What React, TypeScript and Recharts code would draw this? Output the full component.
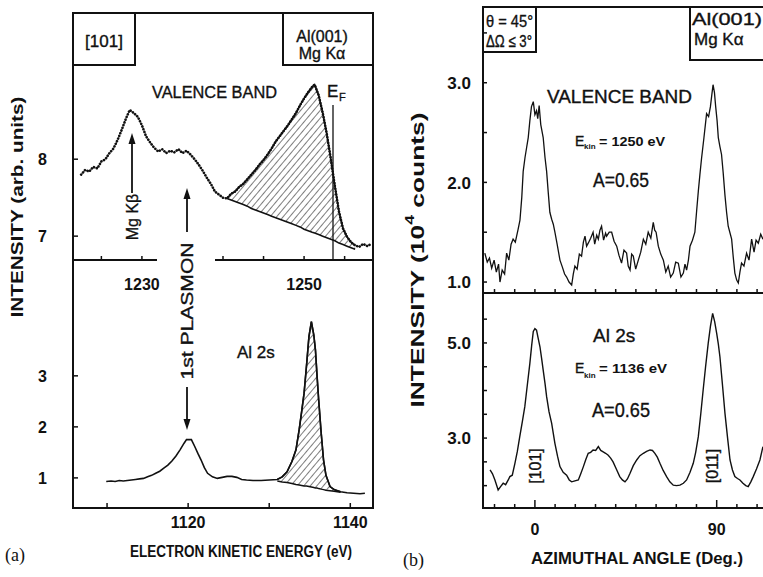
import React from "react";
import { ComposedChart, Line, Area, XAxis, YAxis } from "recharts";

const FONT = "'Liberation Sans', Arial, Helvetica, sans-serif";
const SERIF = "'Liberation Serif', 'Times New Roman', serif";
const INK = "#111";

// ---- (a) upper: valence band, electron kinetic energy (eV) vs intensity
const vbEnergy = [
  1222.5, 1223.0, 1223.5, 1224.0, 1224.5, 1225.0, 1225.5, 1226.0, 1226.5, 1227.0,
  1227.5, 1228.0, 1228.5, 1229.0, 1229.5, 1230.0, 1230.5, 1231.0, 1231.5, 1232.0,
  1232.5, 1233.0, 1233.5, 1234.0, 1234.5, 1235.0, 1235.5, 1236.0, 1236.5, 1237.0,
  1237.5, 1238.0, 1238.5, 1239.0, 1239.5, 1240.0, 1240.5, 1241.0, 1241.5, 1242.0,
  1242.5, 1243.0, 1243.5, 1244.0, 1244.5, 1245.0, 1245.5, 1246.0, 1246.5, 1247.0,
  1247.5, 1248.0, 1248.5, 1249.0, 1249.5, 1250.0, 1250.5, 1251.0, 1251.3, 1251.8,
  1252.3, 1252.8, 1253.3, 1253.8, 1254.3, 1254.8, 1255.3, 1255.8, 1256.3, 1256.8,
  1257.3, 1257.8, 1258.3,
];
const vbIntensity = [
  7.8, 7.86, 7.84, 7.9, 7.88, 7.97, 8.0, 8.08, 8.14, 8.25,
  8.38, 8.52, 8.64, 8.6, 8.55, 8.44, 8.3, 8.22, 8.15, 8.1,
  8.13, 8.08, 8.11, 8.09, 8.13, 8.08, 8.11, 8.06, 8.0, 7.93,
  7.85, 7.76, 7.68, 7.58, 7.54, 7.5, 7.49, 7.55, 7.58, 7.64,
  7.68, 7.74, 7.8, 7.86, 7.93, 7.99, 8.06, 8.14, 8.23, 8.3,
  8.37, 8.44, 8.52, 8.6, 8.7, 8.79, 8.87, 8.94, 8.97, 8.83,
  8.6, 8.33, 8.0, 7.65, 7.32, 7.1, 6.99, 6.92, 6.88, 6.86,
  6.9, 6.87, 6.9,
];
// straight background under the hatched valence band
const vbHatchEnergy = [
  1240.5, 1241.0, 1241.5, 1242.0, 1242.5, 1243.0, 1243.5, 1244.0, 1244.5, 1245.0,
  1245.5, 1246.0, 1246.5, 1247.0, 1247.5, 1248.0, 1248.5, 1249.0, 1249.5, 1250.0,
  1250.5, 1251.0, 1251.3, 1251.8, 1252.3, 1252.8, 1253.3, 1253.8, 1254.3, 1254.8,
  1255.3, 1255.8, 1256.3,
];
const vbHatchBase = [
  7.49, 7.47, 7.45, 7.43, 7.41, 7.39, 7.36, 7.34, 7.32, 7.3,
  7.28, 7.26, 7.24, 7.22, 7.2, 7.18, 7.16, 7.14, 7.12, 7.09,
  7.07, 7.05, 7.04, 7.02, 7.0, 6.98, 6.96, 6.94, 6.91, 6.89,
  6.87, 6.85, 6.83,
];
const vbEnergyTicks = [1225, 1230, 1235, 1240, 1245, 1250, 1255];
const vbEnergyLabels = [1230, 1250];
const vbIntensityTicks = [7, 8];

// ---- (a) lower: Al 2s core level
const al2sEnergy = [
  1109.9, 1110.5, 1111.0, 1111.5, 1112.0, 1112.5, 1113.0, 1113.5, 1114.0, 1114.5,
  1115.0, 1115.5, 1116.0, 1116.5, 1117.0, 1117.5, 1118.0, 1118.5, 1119.0, 1119.5,
  1119.8, 1120.4, 1120.8, 1121.2, 1121.6, 1122.0, 1122.4, 1123.0, 1123.6, 1124.2,
  1124.8, 1125.4, 1126.0, 1126.6, 1127.2, 1128.0, 1129.0, 1130.0, 1131.0, 1131.6,
  1132.2, 1132.8, 1133.3, 1133.7, 1134.0, 1134.3, 1134.6, 1134.9, 1135.2, 1135.5,
  1135.7, 1135.9, 1136.1, 1136.4, 1136.7, 1137.0, 1137.5, 1138.0, 1138.8, 1139.6,
  1140.4, 1141.2, 1141.8,
];
const al2sIntensity = [
  0.93, 0.94, 0.93, 0.95, 0.94, 0.95, 0.96, 0.97, 0.98, 0.99,
  1.02, 1.05, 1.09, 1.13, 1.19, 1.25, 1.33, 1.43, 1.55, 1.68,
  1.75, 1.75, 1.62, 1.48, 1.35, 1.2, 1.09, 1.02, 0.99, 1.01,
  1.03, 1.03, 1.01, 0.97, 0.96, 0.95, 0.95, 0.96, 0.97, 1.02,
  1.12, 1.32, 1.55, 1.95, 2.3, 2.66, 3.2, 3.77, 4.06, 3.8,
  3.51, 3.0, 2.53, 1.9, 1.35, 1.05, 0.83, 0.77, 0.73, 0.71,
  0.7, 0.69, 0.7,
];
const al2sHatchEnergy = [
  1131.0, 1131.6, 1132.2, 1132.8, 1133.3, 1133.7, 1134.0, 1134.3, 1134.6, 1134.9,
  1135.2, 1135.5, 1135.7, 1135.9, 1136.1, 1136.4, 1136.7, 1137.0, 1137.5, 1138.0,
  1138.8,
];
const al2sHatchBase = [
  0.94, 0.92, 0.91, 0.89, 0.87, 0.86, 0.85, 0.84, 0.84, 0.83,
  0.82, 0.81, 0.8, 0.8, 0.79, 0.78, 0.77, 0.76, 0.75, 0.74,
  0.72,
];
const al2sEnergyTicks = [1110, 1120, 1130, 1140];
const al2sEnergyLabels = [1120, 1140];
const al2sIntensityTicks = [1, 2, 3];

// ---- (b) upper: valence band azimuthal scan (10^4 counts)
const vbAngle = [
  -24.8, -23.6, -22.5, -21.4, -20.2, -19.1, -18.0, -17.3, -16.2, -15.0,
  -14.0, -12.9, -11.8, -10.8, -9.7, -8.3, -7.4, -6.5, -5.8, -4.9,
  -4.1, -3.3, -2.5, -1.7, -0.8, 0.0, 0.8, 1.4, 2.1, 2.9,
  4.1, 5.0, 5.8, 6.6, 7.4, 8.3, 9.1, 9.9, 11.0, 12.4,
  13.6, 14.7, 15.7, 16.9, 18.2, 19.0, 19.8, 20.9, 22.0, 23.1,
  24.0, 24.8, 25.6, 26.4, 27.6, 28.8, 29.6, 30.6, 31.4, 32.2,
  33.0, 34.0, 35.0, 35.5, 36.8, 38.0, 39.2, 40.5, 41.6, 42.9,
  44.1, 45.4, 46.2, 47.1, 47.9, 48.7, 49.9, 51.2, 52.4, 53.7,
  54.9, 56.1, 57.4, 58.6, 59.3, 60.0, 61.1, 62.3, 63.6, 64.8,
  66.0, 67.2, 68.5, 69.7, 71.0, 72.3, 73.5, 74.3, 75.1, 76.0,
  76.8, 78.0, 79.2, 80.1, 80.9, 81.7, 82.5, 83.7, 85.0, 86.0,
  86.9, 87.6, 88.2, 88.9, 89.5, 90.2, 90.8, 91.6, 92.4, 93.2,
  94.1, 94.9, 95.7, 96.5, 97.4, 98.2, 99.0, 99.9, 100.7, 101.5,
  102.3, 103.5, 104.8, 106.0, 107.3, 108.5, 109.5, 110.6, 111.8, 112.9,
];
const vbCounts = [
  1.29, 1.2, 1.24, 1.14, 1.22, 1.1, 1.18, 1.0, 1.12, 1.08,
  1.29, 1.22, 1.38, 1.43, 1.4, 1.53, 1.62, 1.85, 2.11, 2.25,
  2.35, 2.45, 2.62, 2.76, 2.81, 2.68, 2.72, 2.64, 2.77, 2.58,
  2.45, 2.25, 2.11, 1.9, 1.7, 1.63, 1.58, 1.5, 1.38, 1.22,
  1.15, 1.08, 1.05, 1.0, 0.97, 1.08, 1.16, 1.13, 1.28, 1.26,
  1.4, 1.46, 1.36, 1.39, 1.44, 1.5, 1.38, 1.47, 1.43, 1.52,
  1.56, 1.42, 1.49, 1.46, 1.5, 1.5, 1.41, 1.36, 1.27, 1.19,
  1.32, 1.29, 1.16, 1.12, 1.28, 1.26, 1.13, 1.22, 1.3, 1.43,
  1.38, 1.5, 1.44, 1.6, 1.52, 1.5, 1.36, 1.28, 1.22, 1.1,
  1.16, 1.05, 1.09, 1.2, 1.19, 1.05, 1.09, 1.18, 1.12, 1.22,
  1.36, 1.42, 1.5, 1.72, 1.91, 2.08, 2.24, 2.45, 2.69, 2.66,
  2.76, 2.88, 2.98, 2.9, 2.76, 2.62, 2.45, 2.36, 2.28, 2.1,
  1.87, 1.7, 1.56, 1.5, 1.43, 1.25, 1.09, 1.02, 0.99, 1.1,
  1.19, 1.16, 1.29, 1.22, 1.43, 1.3, 1.42, 1.39, 1.48, 1.43,
];
const vbCountTicks = [1.0, 1.5, 2.0, 2.5, 3.0, 3.5];
const vbCountLabels = [1.0, 2.0, 3.0];

// ---- (b) lower: Al 2s azimuthal scan
const al2sAngle = [
  -22.2, -21.0, -19.8, -18.2, -17.0, -15.7, -14.5, -13.2, -12.4, -11.2,
  -9.9, -8.7, -7.5, -6.2, -5.0, -3.8, -2.5, -1.6, -0.8, 0.0,
  0.8, 1.6, 2.5, 3.3, 4.1, 5.0, 5.8, 7.0, 8.3, 9.1,
  9.9, 11.2, 12.4, 14.0, 15.7, 17.0, 18.2, 19.8, 21.5, 22.7,
  24.0, 25.2, 26.4, 27.6, 28.8, 30.1, 31.4, 32.6, 33.8, 35.0,
  36.3, 37.5, 38.7, 40.3, 42.0, 43.3, 44.6, 45.8, 47.1, 48.7,
  50.4, 52.0, 53.7, 55.3, 57.0, 58.2, 59.4, 60.6, 61.9, 63.5,
  65.2, 66.8, 68.5, 70.1, 71.8, 73.5, 75.1, 76.8, 78.4, 79.6,
  80.9, 82.1, 83.3, 84.5, 85.8, 86.9, 88.0, 89.0, 90.0, 90.8,
  91.6, 92.9, 94.1, 95.4, 96.6, 97.8, 99.0, 100.3, 101.5, 103.0,
  104.4, 105.6, 106.9, 108.1, 109.7, 111.4, 112.9,
];
const al2sCounts = [
  2.33, 2.25, 2.12, 1.91, 1.98, 2.05, 2.02, 2.12, 2.19, 2.22,
  2.47, 2.72, 3.03, 3.35, 3.66, 4.1, 4.57, 4.95, 5.24, 5.3,
  5.27, 5.1, 4.92, 4.68, 4.43, 4.15, 3.87, 3.55, 3.31, 3.1,
  2.89, 2.62, 2.4, 2.28, 2.22, 2.12, 2.08, 2.1, 2.12, 2.25,
  2.4, 2.55, 2.68, 2.7, 2.75, 2.74, 2.82, 2.74, 2.71, 2.68,
  2.64, 2.58, 2.5, 2.35, 2.19, 2.12, 2.08, 2.14, 2.26, 2.42,
  2.54, 2.63, 2.68, 2.72, 2.75, 2.74, 2.68, 2.6, 2.47, 2.32,
  2.19, 2.08, 2.01, 2.0, 2.01, 2.05, 2.12, 2.28, 2.47, 2.7,
  3.03, 3.5, 4.01, 4.5, 4.99, 5.35, 5.62, 5.45, 5.2, 4.98,
  4.71, 4.1, 3.52, 3.0, 2.54, 2.33, 2.19, 2.15, 2.12, 2.05,
  2.0, 1.98, 2.08, 2.19, 2.35, 2.54, 2.82,
];
const al2sCountTicks = [2.0, 2.5, 3.0, 3.5, 4.0, 4.5, 5.0, 5.5];
const al2sCountLabels = [3.0, 5.0];

const angleTicks = [-20, -10, 0, 10, 20, 30, 40, 50, 60, 70, 80, 90, 100, 110];
const angleLabels = [0, 90];

// ---- tables for recharts
const vbRows = vbEnergy.map((x, i) => ({ x, y: vbIntensity[i] }));
const vbHatchRows = vbHatchEnergy.map((x, i) => ({
  x,
  band: [vbHatchBase[i], vbIntensity[vbEnergy.indexOf(x)]],
}));
const al2sRows = al2sEnergy.map((x, i) => ({ x, y: al2sIntensity[i] }));
const al2sHatchRows = al2sHatchEnergy.map((x, i) => ({
  x,
  band: [al2sHatchBase[i], al2sIntensity[al2sEnergy.indexOf(x)]],
}));
const vbAngleRows = vbAngle.map((x, i) => ({ x, y: vbCounts[i] }));
const al2sAngleRows = al2sAngle.map((x, i) => ({ x, y: al2sCounts[i] }));

// ticks point into the frame, labels sit outside
function bottomTick(labels: number[], len: number, dy: number, bigLen = len, big: number[] = []) {
  return (p: any) => {
    const v = p.payload.value as number;
    const l = big.includes(v) ? bigLen : len;
    return (
      <g>
        <line x1={p.x} x2={p.x} y1={p.y} y2={p.y - l} stroke={INK} strokeWidth={1.5} />
        {labels.includes(v) ? (
          <text x={p.x} y={p.y + dy} textAnchor="middle" fontFamily={FONT} fontWeight="bold" fontSize={16} fill={INK}>
            {v}
          </text>
        ) : null}
      </g>
    );
  };
}

function leftTick(labels: number[], len: number, dx: number, digits: number, size = 16) {
  return (p: any) => {
    const v = p.payload.value as number;
    return (
      <g>
        <line x1={p.x} x2={p.x + len} y1={p.y} y2={p.y} stroke={INK} strokeWidth={1.5} />
        {labels.includes(v) ? (
          <text x={p.x - dx} y={p.y} dy="0.36em" textAnchor="end" fontFamily={FONT} fontWeight="bold" fontSize={size} fill={INK}>
            {v.toFixed(digits)}
          </text>
        ) : null}
      </g>
    );
  };
}

type PanelProps = {
  left: number;
  top: number;
  width: number;
  height: number;
  xDomain: [number, number];
  yDomain: [number, number];
  xTicks: number[];
  yTicks: number[];
  xTick: any;
  yTick: any;
  data: any[];
  children: React.ReactNode;
};

function Panel(props: PanelProps) {
  const padL = 60, padT = 4, padR = 4, padB = 40;
  return (
    <div style={{ position: "absolute", left: props.left - padL, top: props.top - padT }}>
      <ComposedChart
        width={props.width + padL + padR}
        height={props.height + padT + padB}
        data={props.data}
        margin={{ top: padT, right: padR, bottom: 0, left: 0 }}
      >
        <XAxis
          type="number"
          dataKey="x"
          domain={props.xDomain}
          ticks={props.xTicks}
          interval={0}
          tickSize={0}
          tickMargin={0}
          tickLine={false}
          height={padB}
          axisLine={{ stroke: INK, strokeWidth: 2 }}
          tick={props.xTick}
          allowDataOverflow
        />
        <YAxis
          type="number"
          domain={props.yDomain}
          ticks={props.yTicks}
          interval={0}
          tickSize={0}
          tickMargin={0}
          tickLine={false}
          width={padL}
          axisLine={{ stroke: INK, strokeWidth: 2 }}
          tick={props.yTick}
          allowDataOverflow
        />
        {props.children}
      </ComposedChart>
    </div>
  );
}

// frame box given the centre lines of its borders
function Box({ x0, y0, x1, y1 }: { x0: number; y0: number; x1: number; y1: number }) {
  return (
    <div
      style={{
        position: "absolute",
        left: x0 - 1,
        top: y0 - 1,
        width: x1 - x0 - 2,
        height: y1 - y0 - 2,
        border: `2px solid ${INK}`,
      }}
    />
  );
}

function Arrow({ x, y0, y1 }: { x: number; y0: number; y1: number }) {
  // y1 is the tip
  const dir = y1 < y0 ? 1 : -1;
  return (
    <g>
      <line x1={x} x2={x} y1={y0} y2={y1 + dir * 8} stroke={INK} strokeWidth={1.8} />
      <polygon points={`${x},${y1} ${x - 3.5},${y1 + dir * 11} ${x + 3.5},${y1 + dir * 11}`} fill={INK} />
    </g>
  );
}

// scanned lettering is a little heavier than plain regular weight
const txt = { fontFamily: FONT, fill: INK, stroke: INK, strokeWidth: 0.35 } as const;
const bold = { fontFamily: FONT, fill: INK, fontWeight: "bold" } as const;

export default function App() {
  return (
    <div style={{ position: "fixed", left: 0, top: 0, width: 763, height: 577, overflow: "hidden", background: "#fff" }}>
      <svg width={0} height={0} style={{ position: "absolute" }}>
        <defs>
          <pattern id="hatch" width={5} height={5} patternUnits="userSpaceOnUse" patternTransform="rotate(40)">
            <line x1={0} y1={0} x2={0} y2={5} stroke={INK} strokeWidth={1.1} />
          </pattern>
        </defs>
      </svg>

      <Box x0={73} y0={13} x1={373} y1={508} />
      <Box x0={73} y0={13} x1={135} y1={65} />
      <Box x0={283} y0={13} x1={373} y1={65} />
      <Box x0={483} y0={7} x1={800} y1={508} />
      <Box x0={483} y0={7} x1={536} y1={52} />
      <Box x0={690} y0={7} x1={800} y1={60} />

      {/* (a) upper */}
      <Panel
        left={73}
        top={13}
        width={300}
        height={247}
        xDomain={[1221.5, 1258.5]}
        yDomain={[6.69, 9.9]}
        xTicks={vbEnergyTicks}
        yTicks={vbIntensityTicks}
        xTick={bottomTick(vbEnergyLabels, 4, 30)}
        yTick={leftTick(vbIntensityTicks, 5, 26, 0)}
        data={vbRows}
      >
        <Area data={vbHatchRows} dataKey="band" type="linear" stroke={INK} strokeWidth={1.6} fill="url(#hatch)" fillOpacity={1} isAnimationActive={false} />
        <Line dataKey="y" type="linear" stroke={INK} strokeWidth={2.6} strokeDasharray="0.1 2.8" strokeLinecap="round" dot={false} isAnimationActive={false} />
      </Panel>

      {/* (a) lower */}
      <Panel
        left={73}
        top={260}
        width={300}
        height={248}
        xDomain={[1105.8, 1142.8]}
        yDomain={[0.41, 5.27]}
        xTicks={al2sEnergyTicks}
        yTicks={al2sIntensityTicks}
        xTick={bottomTick(al2sEnergyLabels, 5, 20)}
        yTick={leftTick(al2sIntensityTicks, 5, 26, 0)}
        data={al2sRows}
      >
        <Area data={al2sHatchRows} dataKey="band" type="linear" stroke={INK} strokeWidth={1.5} fill="url(#hatch)" fillOpacity={1} isAnimationActive={false} />
        <Line dataKey="y" type="linear" stroke={INK} strokeWidth={1.6} dot={false} isAnimationActive={false} />
      </Panel>

      {/* (b) upper */}
      <Panel
        left={483}
        top={7}
        width={286}
        height={286}
        xDomain={[-25.7, 115.9]}
        yDomain={[0.89, 3.76]}
        xTicks={angleTicks}
        yTicks={vbCountTicks}
        xTick={bottomTick([], 4, 0)}
        yTick={leftTick(vbCountLabels, 4, 12, 1, 17)}
        data={vbAngleRows}
      >
        <Line dataKey="y" type="linear" stroke={INK} strokeWidth={1.3} dot={false} isAnimationActive={false} />
      </Panel>

      {/* (b) lower */}
      <Panel
        left={483}
        top={293}
        width={286}
        height={215}
        xDomain={[-25.7, 115.9]}
        yDomain={[1.53, 6.05]}
        xTicks={angleTicks}
        yTicks={al2sCountTicks}
        xTick={bottomTick(angleLabels, 4, 27, 8, angleLabels)}
        yTick={leftTick(al2sCountLabels, 4, 12, 1, 17)}
        data={al2sAngleRows}
      >
        <Line dataKey="y" type="linear" stroke={INK} strokeWidth={1.4} dot={false} isAnimationActive={false} />
      </Panel>

      <svg width={763} height={577} style={{ position: "absolute", left: 0, top: 0, pointerEvents: "none" }}>
        {/* ---- panel (a) annotations ---- */}
        <text x={104} y={47} textAnchor="middle" fontSize={17} {...txt}>[101]</text>
        <text x={322} y={42} textAnchor="middle" fontSize={16} {...txt}>Al(001)</text>
        <text x={322} y={59} textAnchor="middle" fontSize={16} {...txt}>Mg Kα</text>
        <text x={152} y={98} fontSize={17} textLength={125} lengthAdjust="spacingAndGlyphs" {...txt}>VALENCE BAND</text>
        <text x={327} y={97} fontSize={17} {...txt}>E</text>
        <text x={339} y={101} fontSize={11} {...txt}>F</text>
        <line x1={333} x2={333} y1={105} y2={260} stroke={INK} strokeWidth={1.3} />

        <Arrow x={132} y0={193} y1={133} />
        <text x={132} y={217} transform="rotate(-90 132 217)" textAnchor="middle" dominantBaseline="central" fontSize={16} {...txt}>Mg Kβ</text>

        <rect x={157} y={256} width={58} height={8} fill="#fff" />
        <Arrow x={187} y0={232} y1={188} />
        <text x={187} y={311} transform="rotate(-90 187 311)" textAnchor="middle" dominantBaseline="central" fontSize={17} textLength={137} lengthAdjust="spacingAndGlyphs" {...txt}>1st  PLASMON</text>
        <Arrow x={187} y0={387} y1={430} />

        <text x={237} y={358} fontSize={17} {...txt}>Al 2s</text>

        <text x={17} y={207} transform="rotate(-90 17 207)" textAnchor="middle" dominantBaseline="central" fontSize={17} textLength={221} lengthAdjust="spacingAndGlyphs" {...bold}>INTENSITY (arb. units)</text>
        <text x={241} y={557} textAnchor="middle" fontSize={16} textLength={222} lengthAdjust="spacingAndGlyphs" {...bold}>ELECTRON KINETIC ENERGY (eV)</text>
        <text x={5} y={561} fontSize={18} fontFamily={SERIF} fill={INK}>(a)</text>

        {/* ---- panel (b) annotations ---- */}
        <text x={486} y={27} fontSize={17} textLength={47} lengthAdjust="spacingAndGlyphs" {...txt}>θ = 45°</text>
        <text x={486} y={47} fontSize={17} textLength={46} lengthAdjust="spacingAndGlyphs" {...txt}>ΔΩ ≤ 3°</text>
        <text x={692} y={25} fontSize={17} textLength={70} lengthAdjust="spacingAndGlyphs" {...txt}>Al(001)</text>
        <text x={694} y={45} fontSize={17} {...txt}>Mg Kα</text>

        <text x={547} y={103} fontSize={18} textLength={145} lengthAdjust="spacingAndGlyphs" {...txt}>VALENCE BAND</text>
        <text x={575} y={146} fontSize={14} {...txt}>E</text>
        <text x={584} y={149} fontSize={8} {...bold}>kin</text>
        <text x={599} y={146} fontSize={12} textLength={66} lengthAdjust="spacingAndGlyphs" {...bold}>= 1250 eV</text>
        <text x={593} y={187} fontSize={20} textLength={56} lengthAdjust="spacingAndGlyphs" {...txt}>A=0.65</text>

        <text x={593} y={342} fontSize={19} {...txt}>Al 2s</text>
        <text x={575} y={373} fontSize={14} {...txt}>E</text>
        <text x={584} y={378} fontSize={8} {...bold}>kin</text>
        <text x={599} y={373} fontSize={12} textLength={68} lengthAdjust="spacingAndGlyphs" {...bold}>= 1136 eV</text>
        <text x={592} y={417} fontSize={20} textLength={58} lengthAdjust="spacingAndGlyphs" {...txt}>A=0.65</text>

        <text x={535} y={466} transform="rotate(-90 535 466)" textAnchor="middle" dominantBaseline="central" fontSize={16} {...txt}>[101]</text>
        <text x={712} y={466} transform="rotate(-90 712 466)" textAnchor="middle" dominantBaseline="central" fontSize={16} {...txt}>[011]</text>

        <text x={418} y={260} transform="rotate(-90 418 260)" textAnchor="middle" dominantBaseline="central" fontSize={18} textLength={295} lengthAdjust="spacingAndGlyphs" {...bold}>
          INTENSITY (10<tspan dy={-8} fontSize={12}>4</tspan><tspan dy={8}> counts)</tspan>
        </text>
        <text x={637} y={564} textAnchor="middle" fontSize={17} textLength={212} lengthAdjust="spacingAndGlyphs" {...bold}>AZIMUTHAL ANGLE (Deg.)</text>
        <text x={403} y={566} fontSize={18} fontFamily={SERIF} fill={INK}>(b)</text>
      </svg>
    </div>
  );
}
